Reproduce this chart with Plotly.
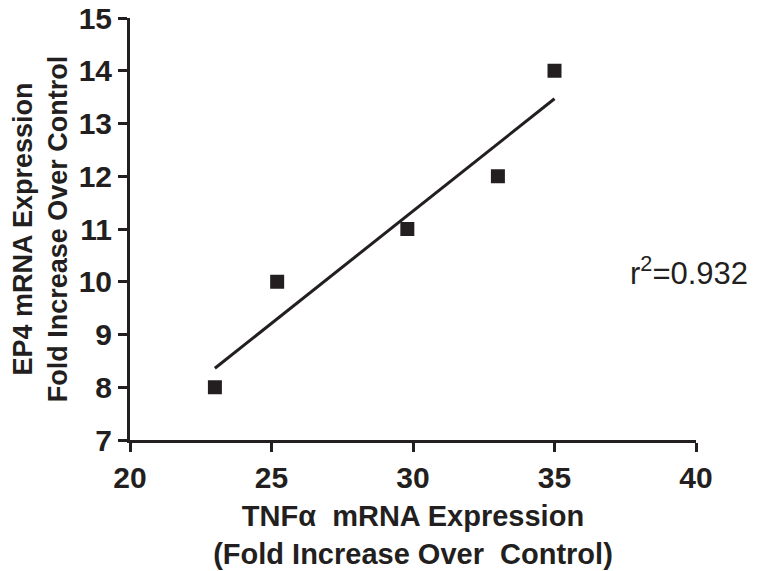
import numpy as np
import plotly.graph_objects as go

# Data
tnf_x = [23.0, 25.2, 29.8, 33.0, 35.0]
ep4_y = [8.0, 10.0, 11.0, 12.0, 14.0]
x_ticks = [20, 25, 30, 35, 40]
y_ticks = [7, 8, 9, 10, 11, 12, 13, 14, 15]
r2_label = "r<sup>2</sup>=0.932"

INK = "#231f20"
FONT = "Liberation Sans, Arial, sans-serif"

# Linear regression through the data
slope, intercept = np.polyfit(tnf_x, ep4_y, 1)
fit_x = [min(tnf_x), max(tnf_x)]
fit_y = [slope * v + intercept for v in fit_x]

fig = go.Figure()
fig.add_trace(go.Scatter(
    x=fit_x, y=fit_y, mode="lines",
    line=dict(color=INK, width=3), showlegend=False, hoverinfo="skip"))
fig.add_trace(go.Scatter(
    x=tnf_x, y=ep4_y, mode="markers",
    marker=dict(symbol="square", size=14, color=INK, line=dict(width=0)),
    showlegend=False))

axis_common = dict(
    showline=True, linecolor=INK, linewidth=3,
    ticks="outside", ticklen=9, tickwidth=2.5, tickcolor=INK,
    showgrid=False, zeroline=False, automargin=False,
    tickfont=dict(family=FONT, size=30, color=INK, weight="bold"),
)

fig.update_xaxes(
    range=[20, 40], tickvals=x_ticks, **axis_common,
    title=dict(text="TNFα  mRNA Expression<br>(Fold Increase Over  Control)",
               font=dict(family=FONT, size=29, color=INK, weight="bold"),
               standoff=13))
fig.update_yaxes(
    range=[7, 15], tickvals=y_ticks, **axis_common,
    title=dict(text="EP4 mRNA Expression<br>Fold Increase Over Control",
               font=dict(family=FONT, size=27, color=INK, weight="bold"),
               standoff=4))

fig.add_annotation(
    x=37.6, y=10.2, xref="x", yref="y", text=r2_label, showarrow=False,
    xanchor="left", yanchor="middle",
    font=dict(family=FONT, size=31, color=INK))

fig.update_layout(
    width=762, height=571,
    margin=dict(l=130, r=66, t=18, b=131),
    plot_bgcolor="white", paper_bgcolor="white",
)

fig.write_html(
    "out.html",
    config={"displayModeBar": False},
    post_script="document.body.style.margin='0';document.body.style.overflow='hidden';",
)
